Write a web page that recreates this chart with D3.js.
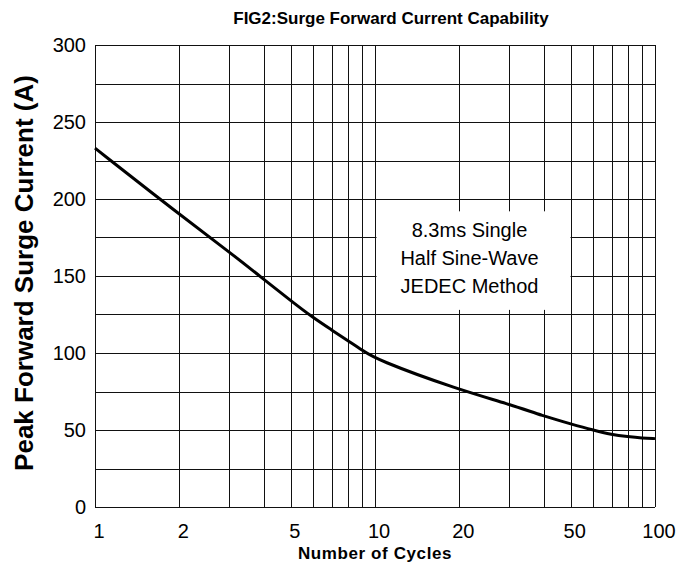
<!DOCTYPE html>
<html>
<head>
<meta charset="utf-8">
<script src="https://cdn.jsdelivr.net/npm/d3@7"></script>
<style>
  body { margin: 0; background: #fff; }
  text { font-family: "Liberation Sans", Arial, sans-serif; fill: #000; }
</style>
</head>
<body>
<svg id="chart" width="697" height="568"></svg>
<script>
// values at each grid line
const cycles = [1, 2, 3, 4, 5, 6, 7, 8, 9, 10, 20, 30, 40, 50, 60, 70, 80, 90, 100];
const current = [233, 190, 166, 148, 134, 123, 115, 108, 102, 96, 76, 67, 59, 54, 50, 47, 45.7, 44.8, 44.4];

const xTickLabels = [1, 2, 5, 10, 20, 50, 100];
const yTickLabels = [0, 50, 100, 150, 200, 250, 300];
const noteLines = ["8.3ms Single", "Half Sine-Wave", "JEDEC Method"];

const svg = d3.select("#chart");
const plotLeft = 95, plotRight = 655, plotTop = 45, plotBottom = 507;

const x = d3.scaleLog().domain([1, 100]).range([plotLeft, plotRight]);
const y = d3.scaleLinear().domain([0, 300]).range([plotBottom, plotTop]);

// grid
const xGrid = d3.range(1, 10).concat(d3.range(10, 101, 10));
const yGrid = d3.range(0, 301, 25);

const grid = svg.append("g")
    .attr("stroke", "#111")
    .attr("stroke-width", 1)
    .attr("shape-rendering", "crispEdges");

grid.selectAll("line.v")
    .data(xGrid)
    .enter()
    .append("line")
    .attr("class", "v")
    .attr("x1", d => Math.round(x(d)) + 0.5)
    .attr("x2", d => Math.round(x(d)) + 0.5)
    .attr("y1", plotTop)
    .attr("y2", plotBottom);

grid.selectAll("line.h")
    .data(yGrid)
    .enter()
    .append("line")
    .attr("class", "h")
    .attr("x1", plotLeft)
    .attr("x2", plotRight)
    .attr("y1", d => Math.round(y(d)) + 0.5)
    .attr("y2", d => Math.round(y(d)) + 0.5);

// note box hides the grid behind it, bounded by the 10 and 50 lines
const boxX0 = Math.round(x(10)) + 1.5;
const boxX1 = Math.round(x(50)) - 0.5;
svg.append("rect")
    .attr("x", boxX0)
    .attr("y", y(192))
    .attr("width", boxX1 - boxX0)
    .attr("height", y(128) - y(192))
    .attr("fill", "#fff");

svg.append("g")
    .selectAll("text")
    .data(noteLines)
    .enter()
    .append("text")
    .attr("x", (boxX0 + boxX1) / 2 - 4)
    .attr("y", (d, i) => y(192) + 26 + i * 28)
    .attr("text-anchor", "middle")
    .attr("font-size", "20px")
    .text(d => d);

// curve
const line = d3.line()
    .x(d => x(d[0]))
    .y(d => y(d[1]))
    .curve(d3.curveBasis);

svg.append("path")
    .datum(cycles.map((c, i) => [c, current[i]]))
    .attr("d", line)
    .attr("fill", "none")
    .attr("stroke", "#000")
    .attr("stroke-width", 3);

// tick labels
svg.append("g")
    .selectAll("text")
    .data(yTickLabels)
    .enter()
    .append("text")
    .attr("x", plotLeft - 9)
    .attr("y", d => y(d))
    .attr("dy", "0.36em")
    .attr("text-anchor", "end")
    .attr("font-size", "20px")
    .text(d => d);

svg.append("g")
    .selectAll("text")
    .data(xTickLabels)
    .enter()
    .append("text")
    .attr("x", d => x(d) + 4)
    .attr("y", 538)
    .attr("text-anchor", "middle")
    .attr("font-size", "20px")
    .text(d => d);

// titles
svg.append("text")
    .attr("x", 391)
    .attr("y", 24)
    .attr("text-anchor", "middle")
    .attr("font-size", "17px")
    .attr("font-weight", "bold")
    .text("FIG2:Surge Forward Current Capability");

svg.append("text")
    .attr("x", x(10))
    .attr("y", 559)
    .attr("text-anchor", "middle")
    .attr("font-size", "17px")
    .attr("font-weight", "bold")
    .attr("letter-spacing", "0.6px")
    .text("Number of Cycles");

svg.append("text")
    .attr("transform", "translate(33,273) rotate(-90)")
    .attr("text-anchor", "middle")
    .attr("font-size", "26px")
    .attr("font-weight", "bold")
    .text("Peak Forward Surge Current (A)");
</script>
</body>
</html>
